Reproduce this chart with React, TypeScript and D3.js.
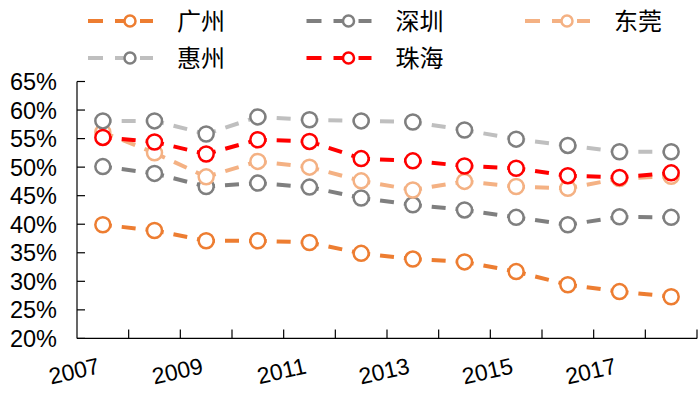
import React from "react";
import * as d3 from "d3";

const years = ["2007","2008","2009","2010","2011","2012","2013","2014","2015","2016","2017","2018"];
const xLabels = ["2007","2009","2011","2013","2015","2017"];
const yTicks = [0.20,0.25,0.30,0.35,0.40,0.45,0.50,0.55,0.60,0.65];

const seriesNames = ["广州","深圳","东莞","惠州","珠海"];
const guangzhou = [39.9,38.9,37.1,37.1,36.8,34.9,33.9,33.4,31.7,29.4,28.2,27.3];
const shenzhen = [50.1,48.9,46.6,47.2,46.5,44.6,43.4,42.5,41.2,39.9,41.3,41.2];
const dongguan = [56.1,52.5,48.3,51.0,50.0,47.6,46.0,47.5,46.6,46.3,48.0,48.4];
const huizhou = [58.1,58.1,55.8,58.8,58.3,58.1,57.9,56.5,54.9,53.8,52.7,52.7];
const zhuhai = [55.2,54.4,52.3,54.8,54.5,51.5,51.1,50.2,49.8,48.5,48.2,49.0];

const lineColors = ["#ED7D31","#7F7F7F","#F4B183","#BFBFBF","#FF0000"];
const markerColors = ["#ED7D31","#7F7F7F","#F4B183","#7F7F7F","#FF0000"];
const legendPos = [[0,0],[1,0],[2,0],[0,1],[1,1]];

const W = 699, H = 404;
const left = 77, right = 697, top = 81.5, bottom = 338.4;

export default function App() {
  const data = [guangzhou, shenzhen, dongguan, huizhou, zhuhai];
  const x = d3.scaleBand().domain(years).range([left, right]).padding(0);
  const y = d3.scaleLinear().domain([0.20, 0.65]).range([bottom, top]);
  const cx = (yr: string) => (x(yr) as number) + x.bandwidth() / 2;
  const num = "'Liberation Sans', Arial, sans-serif";
  const cjk = "'Noto Sans CJK SC', 'Noto Sans', sans-serif";
  const dash = 14, gap = 10, r = 7.5;
  const boundaries = years.map((yr) => (x(yr) as number) + x.bandwidth());

  return (
    <svg width={W} height={H} style={{ position: "absolute", left: 0, top: 0, background: "#fff" }}>
      {/* y axis */}
      <line x1={left} x2={left} y1={top} y2={bottom} stroke="#000" strokeWidth={1.2} />
      {yTicks.map((t) => (
        <g key={t}>
          <line x1={left} x2={left + 8} y1={y(t)} y2={y(t)} stroke="#000" strokeWidth={1.2} />
          <text x={57} y={y(t)} dy="0.36em" textAnchor="end" fontFamily={num} fontSize={23.5} fill="#000">
            {d3.format(".0%")(t)}
          </text>
        </g>
      ))}
      {/* x axis */}
      <line x1={left} x2={right} y1={bottom} y2={bottom} stroke="#000" strokeWidth={1.2} />
      {boundaries.map((b, i) => (
        <line key={i} x1={b} x2={b} y1={bottom} y2={bottom - 9} stroke="#000" strokeWidth={1.2} />
      ))}
      {xLabels.map((yr) => (
        <text key={yr} transform={`translate(${cx(yr) - 2},${373}) rotate(-13)`} textAnchor="end"
          fontFamily={num} fontSize={23} fill="#000">{yr}</text>
      ))}
      {/* series */}
      {data.map((vals, si) => {
        const pts = vals.map((v, i) => [cx(years[i]), y(v / 100)] as [number, number]);
        return (
          <g key={si}>
            {pts.slice(0, -1).map((p, i) => {
              const q = pts[i + 1];
              const L = Math.hypot(q[0] - p[0], q[1] - p[1]);
              const period = dash + gap;
              let off = (dash / 2 - L / 2) % period;
              if (off < 0) off += period;
              return (
                <line key={i} x1={p[0]} y1={p[1]} x2={q[0]} y2={q[1]} stroke={lineColors[si]}
                  strokeWidth={4} strokeDasharray={`${dash} ${gap}`} strokeDashoffset={off} />
              );
            })}
            {pts.map((p, i) => (
              <circle key={i} cx={p[0]} cy={p[1]} r={r} fill="#fff" stroke={markerColors[si]} strokeWidth={2.5} />
            ))}
          </g>
        );
      })}
      {/* legend */}
      {seriesNames.map((name, si) => {
        const [c, rw] = legendPos[si];
        const x0 = 88 + c * 218.5;
        const yy = 21 + rw * 37;
        return (
          <g key={name}>
            <line x1={x0} x2={x0 + 15} y1={yy} y2={yy} stroke={lineColors[si]} strokeWidth={4} />
            <line x1={x0 + 27} x2={x0 + 41} y1={yy} y2={yy} stroke={lineColors[si]} strokeWidth={4} />
            <line x1={x0 + 52} x2={x0 + 65} y1={yy} y2={yy} stroke={lineColors[si]} strokeWidth={4} />
            <circle cx={x0 + 42} cy={yy} r={5.5} fill="#fff" stroke={markerColors[si]} strokeWidth={2.5} />
            <text x={x0 + 89} y={yy} dy="0.36em" fontFamily={cjk} fontSize={24} fill="#000">{name}</text>
          </g>
        );
      })}
    </svg>
  );
}
